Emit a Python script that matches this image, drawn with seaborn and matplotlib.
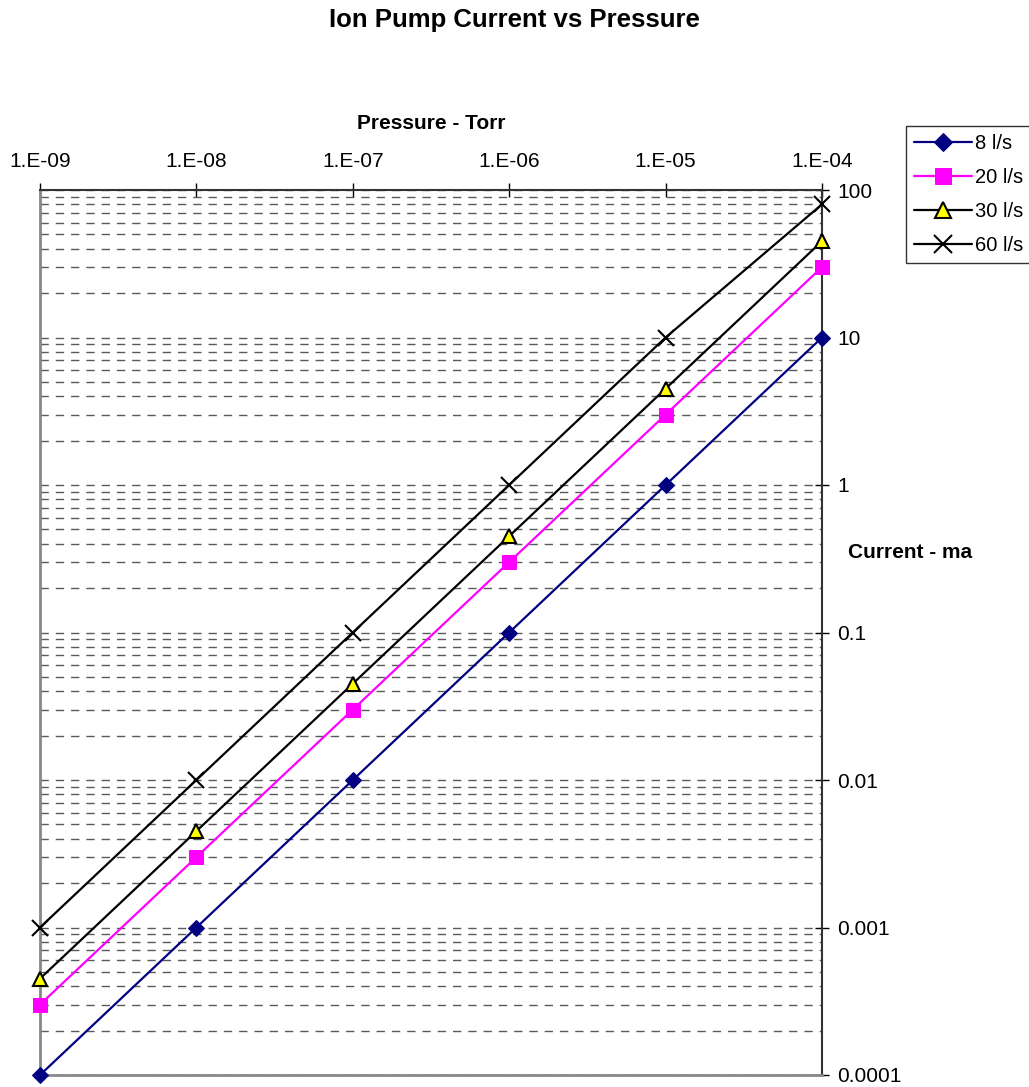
import numpy as np
import pandas as pd
import matplotlib
matplotlib.use("Agg")
import matplotlib.pyplot as plt
import seaborn as sns
from matplotlib.ticker import LogLocator, FixedLocator, NullFormatter

# Data
pressure = [1e-9, 1e-8, 1e-7, 1e-6, 1e-5, 1e-4]
current_8 = [1e-4, 1e-3, 1e-2, 0.1, 1, 10]
current_20 = [3e-4, 3e-3, 3e-2, 0.3, 3, 30]
current_30 = [4.5e-4, 4.5e-3, 4.5e-2, 0.45, 4.5, 45]
current_60 = [1e-3, 1e-2, 0.1, 1, 10, 80]
x_labels = ["1.E-09", "1.E-08", "1.E-07", "1.E-06", "1.E-05", "1.E-04"]
y_ticks = [1e-4, 1e-3, 1e-2, 0.1, 1, 10, 100]
y_labels = ["0.0001", "0.001", "0.01", "0.1", "1", "10", "100"]

sns.set_style("white")
plt.rcParams['font.family'] = ['Liberation Sans', 'DejaVu Sans']
plt.rcParams['text.color'] = 'black'
plt.rcParams['axes.labelcolor'] = 'black'
plt.rcParams['xtick.color'] = 'black'
plt.rcParams['ytick.color'] = 'black'

fig = plt.figure(figsize=(10.29, 10.87), dpi=100)
ax = fig.add_axes([40/1029, 1 - 1075/1087, (822-40)/1029, (1075-190)/1087])

ax.set_xscale("log")
ax.set_yscale("log")
ax.set_xlim(1e-9, 1e-4)
ax.set_ylim(1e-4, 100)

# dashed grid at every 1..9 x decade on y
ax.yaxis.set_minor_locator(LogLocator(base=10, subs=np.arange(1, 10), numticks=20))
ax.yaxis.set_minor_formatter(NullFormatter())
ax.grid(True, which="both", axis="y", linestyle=(0, (6, 5)), color="#5a5a5a", linewidth=1.0)
ax.grid(False, axis="x")
ax.set_axisbelow(True)

series = [
    ("8 l/s", current_8, dict(color="#000080", marker="D", markersize=8,
                              markerfacecolor="#000080", markeredgecolor="#000080")),
    ("20 l/s", current_20, dict(color="#FF00FF", marker="s", markersize=10,
                                markerfacecolor="#FF00FF", markeredgecolor="#FF00FF")),
    ("30 l/s", current_30, dict(color="black", marker="^", markersize=10,
                                markerfacecolor="#FFFF00", markeredgecolor="black",
                                markeredgewidth=1.5)),
    ("60 l/s", current_60, dict(color="black", marker="x", markersize=11,
                                markeredgecolor="black", markeredgewidth=1.5)),
]
for name, vals, style in series:
    df = pd.DataFrame({"Pressure": pressure, "Current": vals})
    sns.lineplot(data=df, x="Pressure", y="Current", ax=ax, label=name,
                 linewidth=1.6, clip_on=False, zorder=3, **style)

# x axis on top, y axis on right
ax.xaxis.set_ticks_position("top")
ax.xaxis.set_label_position("top")
ax.xaxis.set_major_locator(FixedLocator(pressure))
ax.xaxis.set_minor_locator(FixedLocator([]))
ax.set_xticklabels(x_labels)
ax.tick_params(axis="x", which="major", direction="inout", length=10, width=1,
               labelsize=15, pad=9)

ax.yaxis.set_ticks_position("right")
ax.set_yticks(y_ticks)
ax.set_yticklabels(y_labels)
ax.tick_params(axis="y", which="major", direction="inout", length=10, width=1,
               labelsize=15, pad=6)
ax.tick_params(axis="y", which="minor", length=0)

for side in ["top", "right"]:
    ax.spines[side].set_color("#333333")
    ax.spines[side].set_linewidth(1.5)
for side in ["left", "bottom"]:
    ax.spines[side].set_color("#888888")
    ax.spines[side].set_linewidth(2)

ax.set_xlabel("Pressure - Torr", fontsize=15, fontweight="bold", labelpad=16)
ax.set_ylabel("")

fig.text(0.5, 1 - 20/1087, "Ion Pump Current vs Pressure", ha="center", va="center",
         fontsize=18.5, fontweight="bold")
fig.text(910/1029, 1 - 552/1087, "Current - ma", ha="center", va="center",
         fontsize=15, fontweight="bold")

leg = ax.legend(loc="upper left",
                bbox_to_anchor=(906/1029, 1 - 127/1087, 126/1029, 0.001),
                bbox_transform=fig.transFigure, mode="expand", frameon=True,
                fancybox=False, fontsize=14.5, handlelength=2.9, borderpad=0.4,
                labelspacing=0.75, handletextpad=0.15, borderaxespad=0,
                markerscale=1.15)
leg.get_frame().set_edgecolor("black")
leg.get_frame().set_linewidth(1)

fig.savefig("out.png", dpi=100)
